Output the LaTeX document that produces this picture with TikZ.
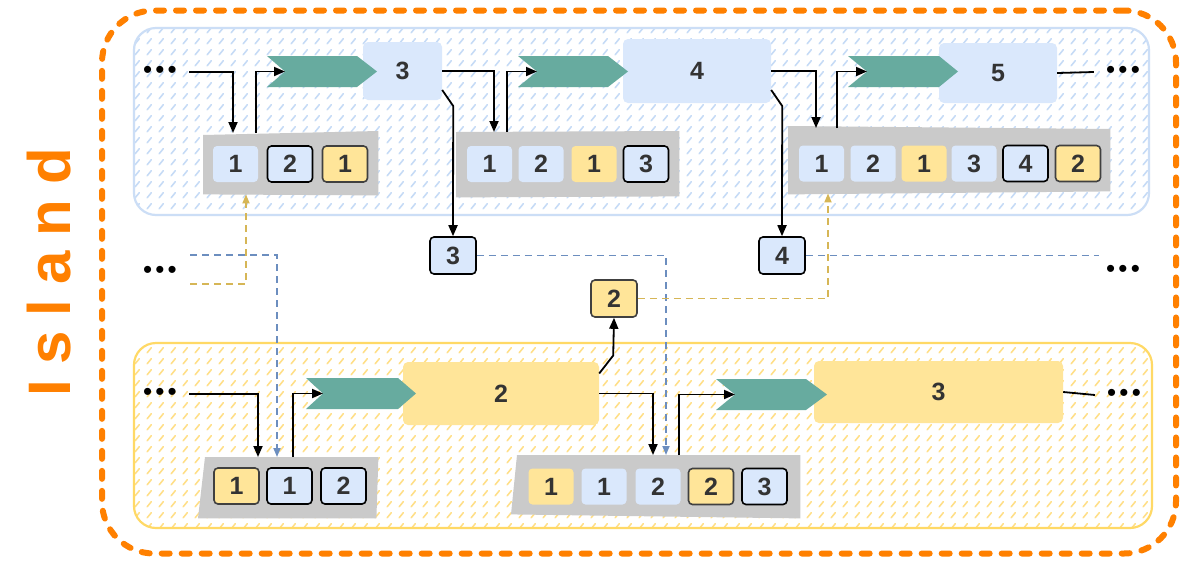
\documentclass[tikz,border=0pt]{standalone}
\usepackage{fontspec}
\setmainfont{Liberation Sans}
\usetikzlibrary{arrows.meta,patterns.meta}
\definecolor{bfill}{HTML}{DAE8FC}
\definecolor{yfill}{HTML}{FFE599}
\definecolor{gfill}{HTML}{CACACA}
\definecolor{chevc}{HTML}{67AB9F}
\definecolor{txtc}{HTML}{333333}
\definecolor{bdashc}{HTML}{6C8EBF}
\definecolor{ydashc}{HTML}{D6B656}
\definecolor{orng}{HTML}{FF8000}
\definecolor{blanec}{HTML}{CCDEF6}
\definecolor{bhatch}{HTML}{C6DBF6}
\definecolor{ylanec}{HTML}{FFD966}
\definecolor{yhatch}{HTML}{FFDF88}
\definecolor{ydark}{HTML}{404040}
\pgfdeclarepattern{
  name=hatchd,
  type=uncolored,
  bottom left={\pgfpoint{0pt}{0pt}},
  top right={\pgfpoint{12pt}{11pt}},
  tile size={\pgfpoint{12pt}{11pt}},
  code={
    \pgfsetlinewidth{1.7pt}
    \pgfsetroundcap
    \pgfpathmoveto{\pgfpoint{3.5pt}{2.5pt}}
    \pgfpathlineto{\pgfpoint{8pt}{8pt}}
    \pgfusepath{stroke}
  }
}
\newcommand\digfont{\fontsize{25}{25}\selectfont\bfseries}
\newcommand\dotsfont{\fontsize{26}{26}\selectfont}
\newcommand\threedots{•\kern3.2pt•\kern3.2pt•}
\begin{document}
\begin{tikzpicture}[x=1pt,y=-1pt,
  cellb/.style={fill=bfill, minimum width=45, minimum height=36, rounded corners=4, inner sep=0, font=\digfont, text=txtc},
  cellbn/.style={cellb, draw=black, line width=1.6},
  celly/.style={cellb, fill=yfill},
  cellyn/.style={celly, draw=ydark, line width=1.6},
  bigb/.style={fill=bfill, rounded corners=5, inner sep=0, font=\digfont, text=txtc},
  bigy/.style={bigb, fill=yfill},
  graybox/.style={inner sep=0, anchor=north west},
  dotsn/.style={inner sep=0, font=\dotsfont},
  arr/.style={line width=1.8, -{Triangle[length=11pt,width=9pt]}},
  plain/.style={line width=1.8},
  bdash/.style={draw=bdashc, line width=1.7, dash pattern=on 7pt off 5pt, -{Triangle[length=9pt,width=7pt]}},
  ydash/.style={draw=ydashc, line width=1.7, dash pattern=on 7pt off 5pt, -{Triangle[length=9pt,width=7pt]}},
  chev/.style={fill=chevc}
]
\useasboundingbox (0,0) rectangle (1186,563);
\fill[white] (0,0) rectangle (1186,563);

% lanes
\node[draw=blanec, line width=2.2, pattern=hatchd, pattern color=bhatch, rounded corners=22, minimum width=1015, minimum height=187, inner sep=0] (laneT) at (641.5,121.5) {};
\node[draw=ylanec, line width=2.2, pattern=hatchd, pattern color=yhatch, rounded corners=22, minimum width=1018, minimum height=185, inner sep=0] (laneB) at (643,435.5) {};

% island border
\node[draw=orng, line width=6, dash pattern=on 8pt off 12pt, line cap=round, rounded corners=52, minimum width=1074, minimum height=543, inner sep=0] (island) at (639,282) {};
\node[rotate=90, text=orng, font=\fontsize{60}{60}\selectfont\bfseries, inner sep=0] (islandlbl) at (49,272) {I\kern15pt s\kern15pt l\kern15pt a\kern15pt n\kern15pt d};

% big boxes
\node[bigb, minimum width=79, minimum height=58] (bx3) at (402.5,71) {3};
\node[bigb, minimum width=148, minimum height=64] (bx4) at (697,71) {4};
\node[bigb, minimum width=118, minimum height=60] (bx5) at (998,73) {5};
\node[bigy, minimum width=196, minimum height=63] (by2) at (501,393.5) {2};
\node[bigy, minimum width=249, minimum height=62] (by3) at (938.5,392) {3};

% chevrons
\fill[chev] (267,56) -- (357,56) -- (377,71.5) -- (357,87) -- (267,87) -- (285,71.5) -- cycle;
\coordinate (nT1) at (285,71.5);
\fill[chev] (518,56) -- (608,56) -- (628,71.5) -- (608,87) -- (518,87) -- (537,71.5) -- cycle;
\coordinate (nT2) at (537,71.5);
\fill[chev] (848,56) -- (939,56) -- (958,71.5) -- (939,87) -- (848,87) -- (867,71.5) -- cycle;
\coordinate (nT3) at (867,71.5);
\fill[chev] (306,378) -- (398,378) -- (416,393.5) -- (398,409) -- (306,409) -- (323,393.5) -- cycle;
\coordinate (nB1) at (323,393.5);
\fill[chev] (716,379) -- (806,379) -- (827,394.5) -- (806,410) -- (716,410) -- (735,394.5) -- cycle;
\coordinate (nB2) at (735,394.5);

% gray boxes (slightly skewed fills)
\node[graybox, minimum width=175, minimum height=61] (gT1) at (203,133) {};
\node[graybox, minimum width=223, minimum height=65] (gT2) at (456,132) {};
\node[graybox, minimum width=322, minimum height=65] (gT3) at (788,128) {};
\node[graybox, minimum width=178, minimum height=61] (gB1) at (200,457) {};
\node[graybox, minimum width=287, minimum height=61] (gB2) at (513,455) {};
\fill[gfill] ([yshift=-2]gT1.north west) -- ([yshift=2]gT1.north east) -- ([yshift=-1]gT1.south east) -- (gT1.south west) -- cycle;
\fill[gfill] (gT2.north west) -- ([yshift=1]gT2.north east) -- ([yshift=1]gT2.south east) -- (gT2.south west) -- cycle;
\fill[gfill] ([yshift=2]gT3.north west) -- ([yshift=-1]gT3.north east) -- ([yshift=2]gT3.south east) -- ([yshift=-1]gT3.south west) -- cycle;
\fill[gfill] ([xshift=5]gB1.north west) -- (gB1.north east) -- ([xshift=-2]gB1.south east) -- ([xshift=-2]gB1.south west) -- cycle;
\fill[gfill] ([xshift=4]gB2.north west) -- (gB2.north east) -- ([yshift=-2]gB2.south east) -- ([xshift=-2,yshift=2]gB2.south west) -- cycle;

% cells top 1
\node[cellb]  (t1a) at (235.5,164) {1};
\node[cellbn] (t1b) at (290,164) {2};
\node[cellyn] (t1c) at (345,164) {1};
% cells top 2
\node[cellb]  (t2a) at (489.5,164) {1};
\node[cellb]  (t2b) at (541,164) {2};
\node[celly]  (t2c) at (594,164) {1};
\node[cellbn] (t2d) at (646,164) {3};
% cells top 3
\node[cellb]  (t3a) at (821.5,163.5) {1};
\node[cellb]  (t3b) at (873,163.5) {2};
\node[celly]  (t3c) at (924,163.5) {1};
\node[cellb]  (t3d) at (974,163.5) {3};
\node[cellbn] (t3e) at (1025.5,163.5) {4};
\node[cellyn] (t3f) at (1078,163.5) {2};
% cells bottom 1
\node[cellyn] (b1a) at (236.5,486) {1};
\node[cellbn] (b1b) at (289.5,486) {1};
\node[cellbn] (b1c) at (343.5,486) {2};
% cells bottom 2
\node[celly]  (b2a) at (551,486.5) {1};
\node[cellb]  (b2b) at (604,486.5) {1};
\node[cellb]  (b2c) at (658,486.5) {2};
\node[cellyn] (b2d) at (711,486.5) {2};
\node[cellbn] (b2e) at (764.5,486.5) {3};

% small message nodes
\node[cellbn, minimum width=46, minimum height=37] (s3) at (453,255.5) {3};
\node[cellbn, minimum width=46, minimum height=37] (s4) at (782,255.5) {4};
\node[cellyn, minimum width=46, minimum height=37] (s2) at (614,298.5) {2};

% dots
\node[dotsn] (dT1) at (160,72) {\threedots};
\node[dotsn] (dT2) at (1123,72) {\threedots};
\node[dotsn] (dM1) at (160,272) {\threedots};
\node[dotsn] (dM2) at (1123,271) {\threedots};
\node[dotsn] (dB1) at (160,394) {\threedots};
\node[dotsn] (dB2) at (1124,395) {\threedots};
\coordinate (bEnd) at (1099,255.5);

% top connectors
\draw[arr] ([xshift=12]dT1.east) -| ([xshift=30]gT1.north west);
\draw[arr] ([xshift=53]gT1.north west) |- (nT1);
\draw[arr] (bx3.east) -| ([xshift=38]gT2.north west);
\draw[arr] ([xshift=51]gT2.north west) |- (nT2);
\draw[arr] (bx4.east) -| ([xshift=28]gT3.north west);
\draw[arr] ([xshift=49]gT3.north west) |- (nT3);
\draw[plain] (bx5.east) -- ([xshift=-12]dT2.west);
\draw[arr] ([yshift=-19]bx3.east) -- ++(11,16) -- (s3.north);
\draw[arr] ([yshift=-19]bx4.east) -- ++(11,16) -- (s4.north);

% bottom connectors
\draw[arr] ([xshift=12]dB1.east) -| ([xshift=58]gB1.north west);
\draw[arr] ([xshift=93]gB1.north west) |- (nB1);
\draw[arr] (by2.east) -| ([xshift=140]gB2.north west);
\draw[arr] ([xshift=166]gB2.north west) |- (nB2);
\draw[plain] (by3.east) -- ([xshift=-12]dB2.west);
\draw[arr] ([yshift=20]by2.east) -- ++(14,-18) -- (s2.south);

% dashed message connectors
\draw[bdash] ([xshift=13,yshift=17]dM1.east) -| ([xshift=77]gB1.north west);
\draw[ydash] ([xshift=13,yshift=-12]dM1.east) -| ([xshift=43]gT1.south west);
\draw[bdash] (s3.east) -| ([xshift=153]gB2.north west);
\draw[ydash] (s2.east) -| ([xshift=40]gT3.south west);
\draw[bdash, -] (s4.east) -- (bEnd);
\end{tikzpicture}
\end{document}
